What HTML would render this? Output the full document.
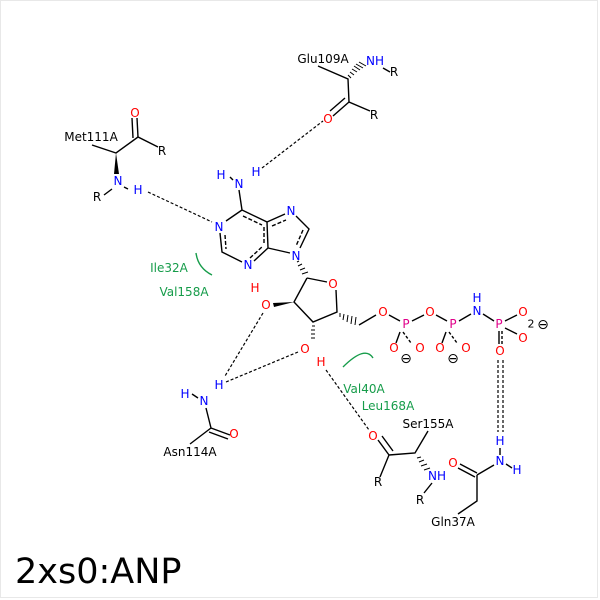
<!DOCTYPE html>
<html><head><meta charset="utf-8"><style>
html,body{margin:0;padding:0;background:#fff}
svg{display:block}
text{font-family:"DejaVu Sans","Liberation Sans",sans-serif;font-size:12px;dominant-baseline:central;text-anchor:middle}
.b{fill:#0000ff}.r{fill:#ff0000}.p{fill:#e0008a}.g{fill:#169c4a}.k{fill:#000}
</style></head><body>
<svg width="600" height="600" viewBox="0 0 600 600" xmlns="http://www.w3.org/2000/svg">
<rect x="0.5" y="0.5" width="597" height="597" fill="#fff" stroke="#e8e8e8"/>
<g stroke="#000" stroke-width="1.4" fill="none">
<path d="M318 66 L348 79 L349 102 L370 111"/>
<path d="M349 102 L333 116 M345 98 L330 111"/>
<path d="M383 68 L390 72"/>
<path d="M92 145 L116 153 L138 137 L158 147"/>
<path d="M138 137 L137 118 M133 138 L132 118"/>
<path d="M124 187 L128 189 M112 189 L104 195"/>
<path d="M239 190 L242 210 L226 221 M220 233 L222 252 L242 262 M254 261 L268 248 L267 222 L242 210 M267 222 L285 214 M296 216 L309 229 L300 248 M290 253 L268 248"/>
<path d="M243 216 L262 225 M225 235 L226 249 M264 227 L264 245 M272 226 L286 220 M303 230 L296 246 M250 258 L263 246" stroke-dasharray="4,2"/>
<path d="M230 177 L233 180"/>
<path d="M307 278 L327 282 M336 290 L337 312 L313 322 L294 302 L307 278"/>
<path d="M359 325 L376 315 M389 315 L400 321 M412 321 L424 315 M436 315 L447 321 M459 321 L471 314 M483 314 L494 321"/>
<path d="M400 332 L396 343 M446 332 L442 343"/>
<path d="M505 321 L517 315 M505 328 L517 334 M499 331 L499 344"/>
<path d="M403 332 L411 343 M449 332 L457 343 M502 331 L502 344" stroke-dasharray="3,2"/>
<path d="M192 394 L198 398 M206 408 L211 428 L230 435 M209 432 L228 439 M211 428 L190 444"/>
<path d="M378 440 L389 455 M382 436 L393 451 M389 455 L380 477 M389 455 L415 453 L428 431 M432 483 L424 493"/>
<path d="M460 464 L477 473 M458 468 L475 477 M477 475 L494 465 M506 464 L512 468 M500 448 L500 455 M477 475 L477 501 L458 514"/>
</g>
<g fill="#000">
<polygon points="116,153 114,174 119,174"/>
<polygon points="294,302 273,303 274,307"/>
</g>
<g stroke="#000" stroke-width="1" fill="none">
<path d="M351 78 l-3 -3 M354 75 l-4 -3 M357 72 l-5 -3 M360 70 l-6 -4 M363 68 l-7 -4 M366 66 l-7 -4"/>
<path d="M297 262 l2 -1 M298 266 l4 -2 M300 270 l5 -2 M302 274 l6 -2"/>
<path d="M311 338 l4 0 M311 334 l4 0 M311 330 l4 0 M312 326 l3 0"/>
<path d="M340 313 l0 4 M344 314 l-1 6 M348 315 l-1 7 M352 316 l-1 8 M356 317 l-1 8"/>
<path d="M417 458 l4 -1 M419 462 l5 -2 M421 466 l6 -2 M424 470 l6 -2"/>
</g>
<g stroke="#000" stroke-width="1.2" fill="none" stroke-dasharray="3,2">
<path d="M262 168 L323 121"/>
<path d="M148 192 L212 222"/>
<path d="M263 313 L225 376"/>
<path d="M298 352 L226 382"/>
<path d="M326 370 L369 430"/>
<path d="M498 360 L498 432"/>
<path d="M503 360 L503 432"/>
</g>
<g stroke="#169c4a" stroke-width="1.4" fill="none">
<path d="M196 253 Q198 268 212 275"/>
<path d="M343 367 Q365 345 373 358"/>
</g>
<text x="323" y="59" class="k">Glu109A</text>
<text x="375" y="61" class="b">NH</text>
<text x="394" y="72" class="k">R</text>
<text x="328" y="119" class="r">O</text>
<text x="374" y="115" class="k">R</text>
<text x="91" y="137" class="k">Met111A</text>
<text x="135" y="113" class="r">O</text>
<text x="162" y="151" class="k">R</text>
<text x="118" y="181" class="b">N</text>
<text x="138" y="190" class="b">H</text>
<text x="97" y="197" class="k">R</text>
<text x="221" y="175" class="b">H</text>
<text x="239" y="184" class="b">N</text>
<text x="256" y="172" class="b">H</text>
<text x="219" y="227" class="b">N</text>
<text x="248" y="265" class="b">N</text>
<text x="291" y="211" class="b">N</text>
<text x="296" y="256" class="b">N</text>
<text x="333" y="284" class="r">O</text>
<text x="266" y="305" class="r">O</text>
<text x="255" y="288" class="r">H</text>
<text x="305" y="349" class="r">O</text>
<text x="321" y="362" class="r">H</text>
<text x="383" y="312" class="r">O</text>
<text x="406" y="324" class="p">P</text>
<text x="430" y="312" class="r">O</text>
<text x="453" y="324" class="p">P</text>
<text x="477" y="311" class="b">N</text>
<text x="477" y="298" class="b">H</text>
<text x="499" y="324" class="p">P</text>
<text x="523" y="312" class="r">O</text>
<text x="523" y="338" class="r">O</text>
<text x="500" y="351" class="r">O</text>
<text x="531" y="324" class="k" style="font-size:11px">2</text>
<text x="543" y="325" class="k" style="font-size:14px">⊖</text>
<text x="394" y="348" class="r">O</text>
<text x="420" y="348" class="r">O</text>
<text x="406" y="359" class="k" style="font-size:14px">⊖</text>
<text x="440" y="348" class="r">O</text>
<text x="466" y="348" class="r">O</text>
<text x="453" y="359" class="k" style="font-size:14px">⊖</text>
<text x="169" y="268" class="g">Ile32A</text>
<text x="184" y="292" class="g">Val158A</text>
<text x="364" y="389" class="g">Val40A</text>
<text x="388" y="406" class="g">Leu168A</text>
<text x="185" y="394" class="b">H</text>
<text x="204" y="401" class="b">N</text>
<text x="219" y="385" class="b">H</text>
<text x="234" y="434" class="r">O</text>
<text x="190" y="452" class="k">Asn114A</text>
<text x="373" y="436" class="r">O</text>
<text x="428" y="424" class="k">Ser155A</text>
<text x="378" y="482" class="k">R</text>
<text x="437" y="476" class="b">NH</text>
<text x="420" y="500" class="k">R</text>
<text x="453" y="463" class="r">O</text>
<text x="500" y="461" class="b">N</text>
<text x="500" y="441" class="b">H</text>
<text x="517" y="470" class="b">H</text>
<text x="453" y="522" class="k">Gln37A</text>
<text x="15" y="572" class="k" style="font-size:35px;text-anchor:start">2xs0:ANP</text>
</svg>
</body></html>
